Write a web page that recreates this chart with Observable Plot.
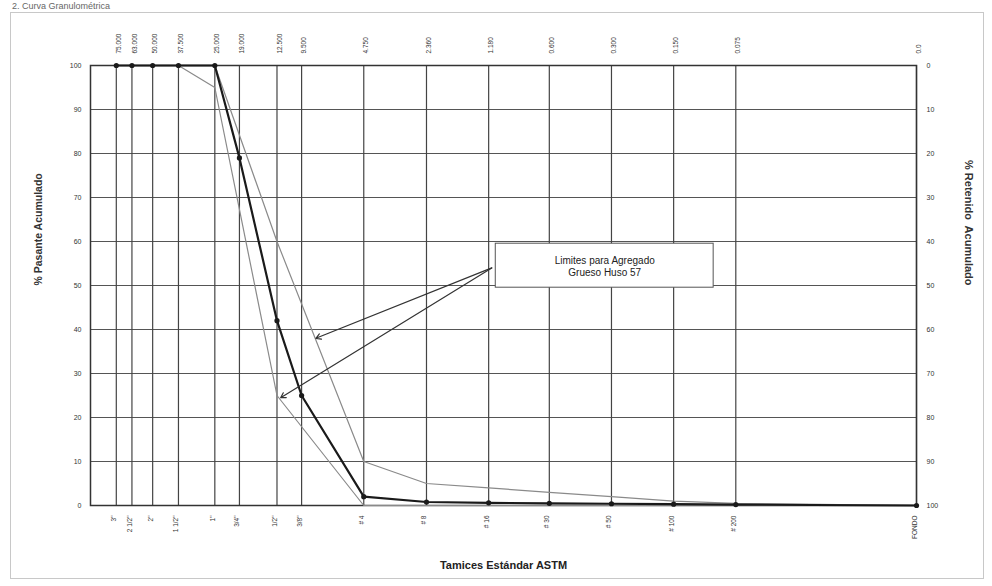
<!DOCTYPE html>
<html>
<head>
<meta charset="utf-8">
<script src="https://cdn.jsdelivr.net/npm/d3@7"></script>
<script src="https://cdn.jsdelivr.net/npm/@observablehq/plot@0.6"></script>
<style>
  html, body { margin: 0; padding: 0; background: #fff; }
  #wrap { position: relative; width: 992px; height: 586px; overflow: hidden; font-family: "Liberation Sans", Arial, sans-serif; }
  #border { position: absolute; left: 10px; top: 12px; width: 974px; height: 567px; border: 1px solid #c8c8c8; box-sizing: border-box; }
  #title { position: absolute; left: 12px; top: 1px; font-size: 9px; line-height: 10px; color: #666; white-space: nowrap; }
  #chart { position: absolute; left: 0; top: 0; }
</style>
</head>
<body>
<div id="wrap">
  <div id="border"></div>
  <div id="title">2. Curva Granulométrica</div>
  <div id="chart"></div>
</div>
<script>
// Sieve openings (mm); the last one stands for "FONDO" (pan), placed at the right edge
const sieveSizes = [75, 63, 50, 37.5, 25, 19, 12.5, 9.5, 4.75, 2.36, 1.18, 0.6, 0.3, 0.15, 0.075, 0.01];
const topLabels = ["75.000", "63.000", "50.000", "37.500", "25.000", "19.000", "12.500", "9.500", "4.750", "2.360", "1.180", "0.600", "0.300", "0.150", "0.075", "0.0"];
const bottomLabels = ['3"', '2 1/2"', '2"', '1 1/2"', '1"', '3/4"', '1/2"', '3/8"', '# 4', '# 8', '# 16', '# 30', '# 50', '# 100', '# 200', 'FONDO'];

// Sample curve (% passing)
const samplePassing = [100, 100, 100, 100, 100, 79, 42, 25, 2, 0.8, 0.6, 0.5, 0.4, 0.3, 0.2, 0];

// Huso 57 limits
const upperSizes = [75, 63, 50, 37.5, 25, 12.5, 4.75, 2.36, 1.18, 0.6, 0.3, 0.15, 0.075, 0.01];
const upperPassing = [100, 100, 100, 100, 100, 60, 10, 5, 4, 3, 2, 1, 0.5, 0];
const lowerSizes = [75, 63, 50, 37.5, 25, 12.5, 4.75, 2.36, 1.18, 0.6, 0.3, 0.15, 0.075, 0.01];
const lowerPassing = [100, 100, 100, 100, 95, 25, 0, 0, 0, 0, 0, 0, 0, 0];

const yTicks = d3.range(0, 101, 10);

// Annotation (data units: sieve mm, % passing)
const noteLines = ["Limites para Agregado", "Grueso Huso 57"];
const noteBox = {x1: 1.09, x2: 0.096, y1: 49.5, y2: 59.5};
const arrowStart = {x: 1.14, y: 54};
const arrowEnds = [{x: 8.1, y: 38}, {x: 12.0, y: 24.5}];

const sieves = sieveSizes.map((s, i) => ({size: s, top: topLabels[i], bottom: bottomLabels[i]}));
const sample = sieveSizes.map((s, i) => ({size: s, p: samplePassing[i]}));
const upper = upperSizes.map((s, i) => ({size: s, p: upperPassing[i]}));
const lower = lowerSizes.map((s, i) => ({size: s, p: lowerPassing[i]}));
const arrows = arrowEnds.map(e => ({x1: arrowStart.x, y1: arrowStart.y, x2: e.x, y2: e.y}));

const font = "Liberation Sans, Arial, sans-serif";

const chart = Plot.plot({
  width: 992,
  height: 586,
  marginLeft: 90,
  marginRight: 76,
  marginTop: 65,
  marginBottom: 81,
  style: {fontFamily: font, background: "transparent", color: "#333"},
  x: {type: "log", domain: [100, 0.01], axis: null},
  y: {domain: [0, 100], axis: null},
  marks: [
    Plot.ruleY(yTicks, {stroke: "#555", strokeWidth: 1.2}),
    Plot.ruleX(sieves, {x: "size", stroke: "#444", strokeWidth: 1.2}),
    Plot.frame({stroke: "#333", strokeWidth: 1.5}),
    Plot.axisY({ticks: yTicks, tickSize: 0, tickPadding: 9, fontSize: 7, label: null, anchor: "left", color: "#333"}),
    Plot.axisY({ticks: yTicks, tickSize: 0, tickPadding: 10, fontSize: 7, label: null, anchor: "right", tickFormat: d => 100 - d, color: "#333"}),
    Plot.text(sieves, {x: "size", text: "top", frameAnchor: "top", dy: -12, rotate: -90, textAnchor: "start", fontSize: 6.5, fill: "#333"}),
    Plot.text(sieves, {x: "size", text: "bottom", frameAnchor: "bottom", dy: 10, rotate: -90, textAnchor: "end", fontSize: 6.5, fill: "#333"}),
    Plot.line(upper, {x: "size", y: "p", stroke: "#8a8a8a", strokeWidth: 1.2}),
    Plot.line(lower, {x: "size", y: "p", stroke: "#8a8a8a", strokeWidth: 1.2}),
    Plot.line(sample, {x: "size", y: "p", stroke: "#1a1a1a", strokeWidth: 2.2}),
    Plot.dot(sample, {x: "size", y: "p", r: 2.6, fill: "#1a1a1a"}),
    Plot.rect([noteBox], {x1: "x1", x2: "x2", y1: "y1", y2: "y2", fill: "white", stroke: "#555", strokeWidth: 1}),
    Plot.text([noteLines.join("\n")], {x: Math.sqrt(noteBox.x1 * noteBox.x2), y: (noteBox.y1 + noteBox.y2) / 2, fontSize: 10, fill: "#222", lineHeight: 1.2}),
    Plot.arrow(arrows, {x1: "x1", y1: "y1", x2: "x2", y2: "y2", stroke: "#333", strokeWidth: 1.2, headLength: 7}),
    Plot.text(["% Pasante Acumulado"], {frameAnchor: "left", dx: -52, rotate: -90, fontSize: 10.5, fontWeight: "bold", fill: "#333"}),
    Plot.text(["% Retenido  Acumulado"], {frameAnchor: "right", dx: 52, rotate: 90, fontSize: 11, fontWeight: "bold", fill: "#333"}),
    Plot.text(["Tamices Estándar ASTM"], {frameAnchor: "bottom", dy: 63, fontSize: 11, fontWeight: "bold", fill: "#222"})
  ]
});
document.getElementById("chart").appendChild(chart);
</script>
</body>
</html>
